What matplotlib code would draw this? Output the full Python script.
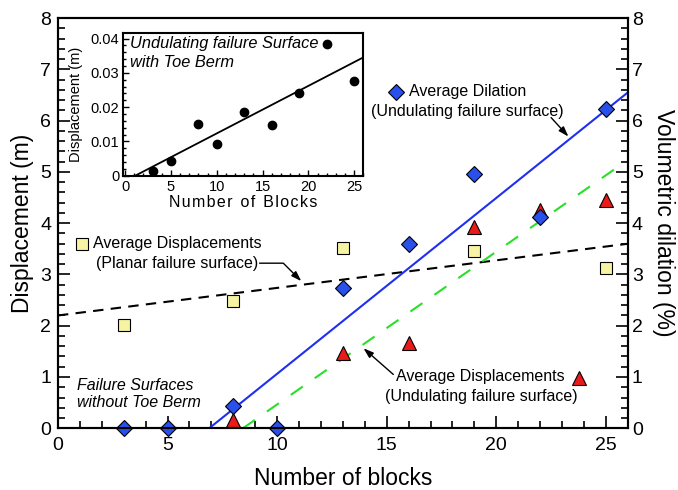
#!/usr/bin/env python3
# -*- coding: utf-8 -*-
"""
ブロック数と変位・体積膨張の関係グラフ（インセット付き）
"""

import numpy as np
import matplotlib
matplotlib.use('Agg')
import matplotlib.pyplot as plt
from matplotlib.ticker import MultipleLocator

plt.rcParams['font.family'] = ['Liberation Sans', 'DejaVu Sans']

# --- データ ---
blocks_dilation = [3, 5, 8, 10, 13, 16, 19, 22, 25]
dilation_pct = [0.0, 0.0, 0.43, 0.0, 2.74, 3.59, 4.96, 4.13, 6.22]

blocks_undulating = [8, 13, 16, 19, 22, 25]
disp_undulating = [0.16, 1.46, 1.67, 3.92, 4.25, 4.45]

blocks_planar = [3, 8, 13, 19, 25]
disp_planar = [2.01, 2.49, 3.51, 3.46, 3.13]

blocks_berm = [3, 5, 8, 10, 13, 16, 19, 22, 25]
disp_berm = [0.0014, 0.0042, 0.0151, 0.0093, 0.0187, 0.0147, 0.0241, 0.0384, 0.0276]

# 近似直線（傾き, 切片, x始点, x終点）
fit_dilation = (0.343, -2.367, 6.9, 26.0)
fit_undulating = (0.298, -2.515, 8.44, 25.45)
fit_planar = (0.0538, 2.2, 0.0, 26.0)
fit_berm = (0.001386, -0.00152, 1.1, 26.0)

BLUE_LINE = '#1f2ff0'
BLUE_FILL = '#2a50ec'
RED = '#ea1a1a'
YELLOW = '#f6f4a2'
GREEN = '#28e028'


def fit_line(fit):
    k, b, x0, x1 = fit
    x = np.array([x0, x1])
    return x, k * x + b


fig = plt.figure(figsize=(6.78, 4.9), dpi=100)
ax = fig.add_axes([0.0855, 0.126, 0.8405, 0.837])
ax2 = ax.twinx()

# 近似直線
x, y = fit_line(fit_planar)
ax.plot(x, y, color='black', lw=1.5, dashes=(5, 3.5))
x, y = fit_line(fit_undulating)
ax.plot(x, y, color=GREEN, lw=1.5, dashes=(7, 7))
x, y = fit_line(fit_dilation)
ax.plot(x, y, color=BLUE_LINE, lw=1.5)

# データ点
ax.plot(blocks_planar, disp_planar, 's', ms=8, mfc=YELLOW, mec='black', mew=0.8, clip_on=False)
ax.plot(blocks_undulating, disp_undulating, '^', ms=10, mfc=RED, mec='black', mew=0.8, clip_on=False)
ax2.plot(blocks_dilation, dilation_pct, 'D', ms=8, mfc=BLUE_FILL, mec='black', mew=0.8, clip_on=False)

ax.set_xlim(0, 26)
ax.set_ylim(0, 8)
ax2.set_ylim(0, 8)

ax.xaxis.set_major_locator(MultipleLocator(5))
ax.xaxis.set_minor_locator(MultipleLocator(1))
ax.yaxis.set_major_locator(MultipleLocator(1))
ax.yaxis.set_minor_locator(MultipleLocator(0.2))
ax2.yaxis.set_major_locator(MultipleLocator(1))
ax2.yaxis.set_minor_locator(MultipleLocator(0.2))

ax.tick_params(which='both', direction='in', top=False, right=False, width=1.2)
ax.tick_params(which='major', length=8.5, labelsize=14)
ax.tick_params(which='minor', length=5)
ax.tick_params(axis='x', which='major', pad=6)
ax.tick_params(axis='y', which='major', pad=5)
ax2.tick_params(which='both', direction='in', width=1.2)
ax2.tick_params(which='major', length=8.5, labelsize=14, pad=3)
ax2.tick_params(which='minor', length=5)

for a in (ax, ax2):
    for s in a.spines.values():
        s.set_linewidth(1.5)

ax.set_xlabel('Number of blocks', fontsize=16.5, labelpad=10)
ax.set_ylabel('Displacement (m)', fontsize=16.5, labelpad=4)
ax2.set_ylabel('Volumetric dilation (%)', fontsize=16.5, rotation=270, labelpad=23)

# 注記
arrow_kw = dict(arrowstyle='-|>,head_length=0.6,head_width=0.2', color='black', lw=1,
                shrinkA=0, shrinkB=0)
txt = 11.5

ax.plot(15.44, 6.56, 'D', ms=8, mfc=BLUE_FILL, mec='black', mew=0.8)
ax.text(16.0, 6.56, 'Average Dilation', fontsize=txt, va='center', ha='left')
ax.text(18.66, 6.17, '(Undulating failure surface)', fontsize=txt, va='center', ha='center')
ax.annotate('', xy=(23.29, 5.69), xytext=(22.5, 6.06), arrowprops=arrow_kw)

ax.plot(1.08, 3.6, 's', ms=8, mfc=YELLOW, mec='black', mew=0.8)
ax.text(1.58, 3.6, 'Average Displacements', fontsize=txt, va='center', ha='left')
ax.text(5.44, 3.22, '(Planar failure surface)', fontsize=txt, va='center', ha='center')
ax.annotate('', xy=(11.1, 2.87), xytext=(9.2, 3.22),
            arrowprops=dict(arrow_kw, connectionstyle='angle,angleA=0,angleB=-45,rad=0'))

ax.text(15.4, 1.01, 'Average Displacements', fontsize=txt, va='center', ha='left')
ax.plot(23.78, 0.99, '^', ms=10, mfc=RED, mec='black', mew=0.8)
ax.text(19.3, 0.62, '(Undulating failure surface)', fontsize=txt, va='center', ha='center')
ax.annotate('', xy=(13.94, 1.56), xytext=(15.3, 1.05), arrowprops=arrow_kw)

ax.text(0.85, 0.67, 'Failure Surfaces\nwithout Toe Berm', fontsize=txt, style='italic',
        va='center', ha='left', linespacing=1.1)

# インセット
axi = fig.add_axes([0.1819, 0.6414, 0.354, 0.2918])
x, y = fit_line(fit_berm)
axi.plot(x, y, color='black', lw=1.3)
axi.plot(blocks_berm, disp_berm, 'o', ms=6, color='black', clip_on=False)
axi.set_xlim(-0.2, 26)
axi.set_ylim(0, 0.0417)
axi.xaxis.set_major_locator(MultipleLocator(5))
axi.xaxis.set_minor_locator(MultipleLocator(1))
axi.yaxis.set_major_locator(MultipleLocator(0.01))
axi.yaxis.set_minor_locator(MultipleLocator(0.002))
axi.set_yticks([0, 0.01, 0.02, 0.03, 0.04])
axi.set_yticklabels(['0', '0.01', '0.02', '0.03', '0.04'])
axi.tick_params(which='both', direction='in', top=False, right=False, width=1, labelsize=10.5)
axi.tick_params(which='major', length=4, pad=3)
axi.tick_params(which='minor', length=2)
for s in axi.spines.values():
    s.set_linewidth(1.5)
axi.set_xlabel('N u m b e r   o f   B l o c k s'.replace('   ', '\u2002').replace(' ', '\u200a'),
               fontsize=11.5, labelpad=1)
axi.set_ylabel('Displacement (m)', fontsize=10.5)
axi.yaxis.set_label_coords(-0.17, 0.5)
axi.text(0.55, 0.0387, 'Undulating failure Surface', fontsize=11.8, style='italic', va='center')
axi.text(0.55, 0.0331, 'with Toe Berm', fontsize=11.8, style='italic', va='center')

fig.savefig('out.png', dpi=100)
plt.close(fig)
